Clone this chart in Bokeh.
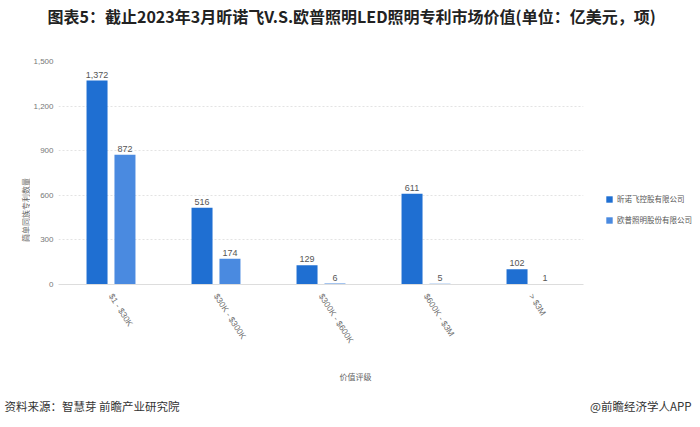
import math
from bokeh.plotting import figure
from bokeh.layouts import column, row
from bokeh.models import (ColumnDataSource, FactorRange, Range1d, FixedTicker,
                          NumeralTickFormatter, LabelSet, Legend, LegendItem)
from bokeh.core.properties import value
from bokeh.transform import dodge
from bokeh.embed import file_html
from bokeh.resources import INLINE

categories = ["$1 - $30K", "$30K - $300K", "$300K - $600K", "$600K - $3M", "> $3M"]
series_names = ["昕诺飞控股有限公司", "欧普照明股份有限公司"]
signify = [1372, 516, 129, 611, 102]
opple = [872, 174, 6, 5, 1]
y_ticks = [0, 300, 600, 900, 1200, 1500]

title_text = "图表5：截止2023年3月昕诺飞V.S.欧普照明LED照明专利市场价值(单位：亿美元，项)"
source_text = "资料来源：智慧芽 前瞻产业研究院"
brand_text = "@前瞻经济学人APP"
y_label = "简单同族专利数量"
x_label = "价值评级"

CJK = "Noto Sans CJK SC"
NUM = "Liberation Sans"
c1, c2 = "#1f6fd2", "#4a8ae0"

MID_H = 307
BT, BB = 18, 66          # main frame top / bottom borders


def strip(w, h, top=0, bottom=0):
    f = figure(width=w, height=h, output_backend="svg", toolbar_location=None,
               x_range=Range1d(0, w), y_range=Range1d(0, h - top - bottom),
               x_axis_location=None, y_axis_location=None, min_border=0)
    f.min_border_left = f.min_border_right = 0
    f.min_border_top = top
    f.min_border_bottom = bottom
    f.outline_line_color = None
    f.xgrid.visible = False
    f.ygrid.visible = False
    return f


# ---- title strip
top = strip(692, 43)
top.text(x=[47], y=[28], text=[title_text], text_font=value(CJK), text_font_size="16px",
         text_font_style="bold", text_color="#222222", text_align="left",
         text_baseline="middle")

# ---- y label strip
left = strip(30, MID_H, BT, BB)
left.text(x=[25], y=[74.5], text=[y_label], text_font=value(CJK), text_font_size="8px",
          text_color="#666666", text_align="center", text_baseline="middle",
          angle=math.pi / 2)

# ---- main chart
src = ColumnDataSource(data=dict(
    cat=categories, s1=signify, s2=opple,
    s1_txt=[f"{v:,}" for v in signify], s2_txt=[f"{v:,}" for v in opple]))

p = figure(width=560, height=MID_H, output_backend="svg", toolbar_location=None,
           x_range=FactorRange(*categories), y_range=Range1d(0, 1500),
           min_border_left=28, min_border_right=7, min_border_top=BT,
           min_border_bottom=BB)
p.outline_line_color = None

off = 0.133
w = 0.2
p.vbar(x=dodge("cat", -off, range=p.x_range), top="s1", width=w, source=src,
       fill_color=c1, line_color=None)
p.vbar(x=dodge("cat", off, range=p.x_range), top="s2", width=w, source=src,
       fill_color=c2, line_color=None)

for col, o in (("s1", -off), ("s2", off)):
    p.add_layout(LabelSet(x=dodge("cat", o, range=p.x_range), y=col, text=col + "_txt",
                          source=src, y_offset=3, text_align="center",
                          text_baseline="bottom", text_font_size="9px",
                          text_color="#555555", text_font=value(NUM)))

p.yaxis.ticker = FixedTicker(ticks=y_ticks)
p.yaxis.formatter = NumeralTickFormatter(format="0,0")
p.yaxis.axis_line_color = None
p.yaxis.major_tick_line_color = None
p.yaxis.minor_tick_line_color = None
p.yaxis.major_tick_out = 0
p.yaxis.major_tick_in = 0
p.yaxis.minor_tick_out = 0
p.yaxis.major_label_text_font_size = "8px"
p.yaxis.major_label_text_color = "#777777"
p.yaxis.major_label_text_font = NUM
p.yaxis.major_label_standoff = 5

p.xaxis.axis_line_color = "#dddddd"
p.xaxis.major_tick_line_color = None
p.xaxis.minor_tick_line_color = None
p.xaxis.major_label_orientation = -1.0
p.xaxis.major_label_text_font_size = "8.5px"
p.xaxis.major_label_text_color = "#707070"
p.xaxis.major_label_text_font = NUM
p.xaxis.major_label_standoff = 4

p.xgrid.grid_line_color = None
p.ygrid.grid_line_color = "#e3e3e3"
p.ygrid.grid_line_dash = "2 2"

# ---- legend strip
lf = strip(102, MID_H, BT, BB)
lr1 = lf.vbar(x=[0], top=[0], width=0.001, fill_color=c1, line_color=None, visible=False)
lr2 = lf.vbar(x=[0], top=[0], width=0.001, fill_color=c2, line_color=None, visible=False)
legend = Legend(items=[LegendItem(label=series_names[0], renderers=[lr1]),
                       LegendItem(label=series_names[1], renderers=[lr2])],
                location=(15, 59), orientation="vertical",
                glyph_width=8, glyph_height=8, label_text_font_size="7.5px",
                label_text_color="#555555", label_text_font=CJK,
                padding=0, margin=0, spacing=10, label_standoff=4,
                label_height=10, border_line_color=None, background_fill_alpha=0,
                inactive_fill_alpha=0)
lf.add_layout(legend, "center")

# ---- footer strip
bottom = strip(692, 69)
bottom.text(x=[355], y=[43], text=[x_label], text_font=value(CJK), text_font_size="8px",
            text_color="#666666", text_align="center", text_baseline="middle")
bottom.text(x=[4], y=[14], text=[source_text], text_font=value(CJK),
            text_font_size="11.5px", text_color="#333333", text_align="left",
            text_baseline="middle")
bottom.text(x=[691], y=[14], text=[brand_text], text_font=value(CJK),
            text_font_size="11.5px", text_color="#333333", text_align="right",
            text_baseline="middle")

layout = column(top, row(left, p, lf), bottom, spacing=0)
open("out.html", "w").write(file_html(layout, INLINE))
